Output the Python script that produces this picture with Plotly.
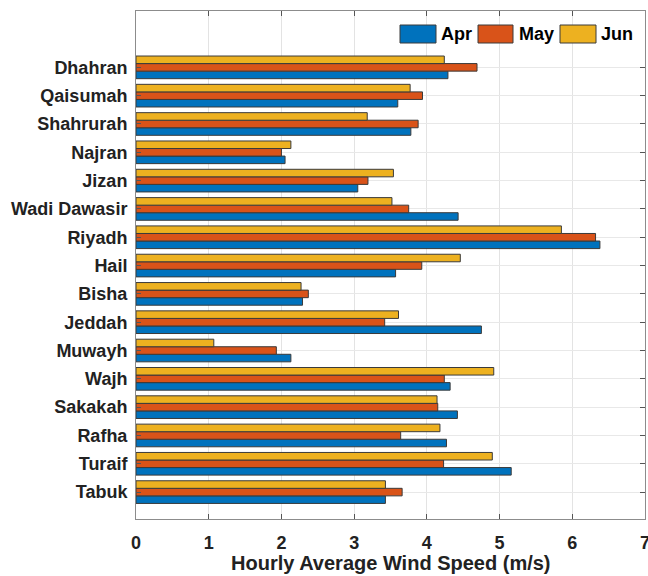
import plotly.graph_objects as go

stations = ["Dhahran", "Qaisumah", "Shahrurah", "Najran", "Jizan", "Wadi Dawasir",
            "Riyadh", "Hail", "Bisha", "Jeddah", "Muwayh", "Wajh", "Sakakah",
            "Rafha", "Turaif", "Tabuk"]
apr = [4.29, 3.60, 3.78, 2.05, 3.05, 4.43, 6.38, 3.57, 2.29, 4.75, 2.13, 4.32, 4.42, 4.27, 5.16, 3.43]
may = [4.69, 3.94, 3.88, 2.00, 3.19, 3.75, 6.32, 3.93, 2.37, 3.42, 1.93, 4.24, 4.15, 3.64, 4.23, 3.66]
jun = [4.24, 3.77, 3.18, 2.13, 3.54, 3.52, 5.85, 4.46, 2.27, 3.61, 1.07, 4.92, 4.14, 4.18, 4.90, 3.43]
months = ["Apr", "May", "Jun"]
colors = ["#0072BD", "#D95319", "#EDB120"]
x_ticks = [0, 1, 2, 3, 4, 5, 6, 7]

FONT = "Liberation Sans, Arial, sans-serif"

fig = go.Figure()
for name, vals, col in zip(months, [apr, may, jun], colors):
    fig.add_trace(go.Bar(
        y=stations, x=vals, name=name, orientation="h",
        marker=dict(color=col, line=dict(color="#3a3a3a", width=1)),
        showlegend=False,
    ))

# plot area in pixels
L, R, T, B = 136, 645, 11, 519


def px(xp):
    return (xp - L) / (R - L)


def py(yp):
    return (B - yp) / (B - T)


shapes = []
annotations = []
leg_boxes = [(400, 436, 439), (478, 513, 517), (560, 596, 599)]
for (x0, x1, tx), name, col in zip(leg_boxes, months, colors):
    shapes.append(dict(type="rect", xref="paper", yref="paper",
                       x0=px(x0), x1=px(x1), y0=py(43), y1=py(25),
                       fillcolor=col, line=dict(color="#3a3a3a", width=1)))
    annotations.append(dict(text="<b>%s</b>" % name, xref="paper", yref="paper",
                            x=px(tx), y=py(34), xanchor="left", yanchor="middle",
                            showarrow=False, font=dict(family=FONT, size=18, color="#000")))

annotations.append(dict(text="<b>Hourly Average Wind Speed (m/s)</b>", xref="paper", yref="paper",
                        x=0.5, y=py(563), xanchor="center", yanchor="middle",
                        showarrow=False, font=dict(family=FONT, size=20, color="#222")))

fig.update_layout(
    width=648, height=576,
    margin=dict(l=L, r=648 - R, t=T, b=576 - B),
    barmode="group", bargap=0.2, bargroupgap=0,
    plot_bgcolor="white", paper_bgcolor="white",
    shapes=shapes, annotations=annotations,
    font=dict(family=FONT, color="#222"),
)
fig.update_xaxes(
    range=[0, 7], tickvals=x_ticks, ticktext=["<b>%d</b>" % v for v in x_ticks],
    tickfont=dict(family=FONT, size=18, color="#222"),
    showgrid=True, gridcolor="#e3e3e3", gridwidth=1,
    showline=True, linecolor="#8c8c8c", linewidth=1, mirror="ticks",
    ticks="inside", ticklen=5, tickcolor="#555", zeroline=False,
    ticklabelstandoff=7, automargin=False, ticklabeloverflow="allow",
)
fig.update_yaxes(
    type="category", categoryorder="array", categoryarray=list(reversed(stations)),
    range=[-0.95, 16.99],
    tickvals=stations, ticktext=["<b>%s</b>" % s for s in stations],
    tickfont=dict(family=FONT, size=18, color="#222"),
    showgrid=True, gridcolor="#e8e8e8", gridwidth=1,
    showline=True, linecolor="#8c8c8c", linewidth=1, mirror="ticks",
    ticks="inside", ticklen=5, tickcolor="#555", zeroline=False,
    ticklabelstandoff=4, automargin=False,
)

fig.write_html("out.html")
